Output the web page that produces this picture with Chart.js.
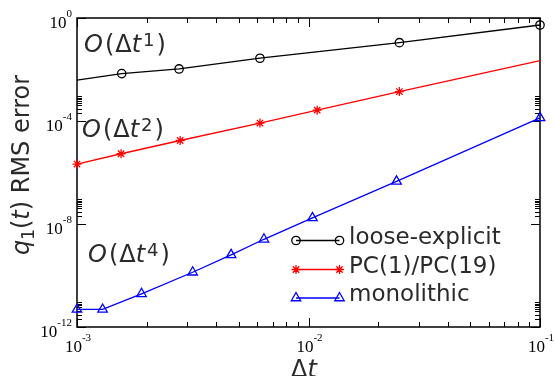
<!DOCTYPE html>
<html>
<head>
<meta charset="utf-8">
<script src="https://cdn.jsdelivr.net/npm/chart.js@4.4.1/dist/chart.umd.min.js"></script>
<style>
  html, body { margin: 0; padding: 0; background: #fff; }
</style>
</head>
<body>
<canvas id="chart" width="554" height="376"></canvas>
<script>
// values
const looseDt  = [1e-3, 1.56e-3, 2.76e-3, 6.17e-3, 2.47e-2, 1e-1]
const looseErr = [3.85e-3, 6.94e-3, 1.05e-2, 2.74e-2, 0.110, 0.535]

const pcDt  = [1e-3, 1.55e-3, 2.79e-3, 6.17e-3, 1.09e-2, 2.47e-2, 1e-1]
const pcErr = [2.13e-6, 5.35e-6, 1.75e-5, 8.3e-5, 2.64e-4, 1.39e-3, 2.21e-2]

const monoDt  = [1e-3, 1.29e-3, 1.90e-3, 3.16e-3, 4.63e-3, 6.42e-3, 1.04e-2, 2.40e-2, 1e-1]
const monoErr = [4.8e-12, 4.8e-12, 1.95e-11, 1.34e-10, 6.34e-10, 2.55e-9, 1.72e-8, 4.52e-7, 1.33e-4]

const seriesNames = ["loose-explicit", "PC(1)/PC(19)", "monolithic"]

const xTickValues = [1e-3, 1e-2, 1e-1]
const xTickExps   = ["-3", "-2", "-1"]
const yTickValues = [1, 1e-4, 1e-8, 1e-12]
const yTickExps   = ["0", "-4", "-8", "-12"]

const toPoints = (xs, ys) => xs.map((x, i) => ({ x: x, y: ys[i] }))

const textColor = "#2a2a2a"
const sans = "'DejaVu Sans', sans-serif"
const serif = "'Liberation Serif', serif"

// draw a row of text pieces (italic, super/subscript) starting at x
const drawRuns = (ctx, runs, x, y, align) => {
    let total = 0
    runs.forEach(r => {
        ctx.font = r.font
        total += ctx.measureText(r.t).width + (r.gap || 0)
    })
    let cx = x
    if (align === "center") cx = x - total / 2
    if (align === "right") cx = x - total
    ctx.textAlign = "left"
    ctx.textBaseline = "alphabetic"
    runs.forEach(r => {
        ctx.font = r.font
        ctx.fillText(r.t, cx, y + (r.dy || 0))
        cx += ctx.measureText(r.t).width + (r.gap || 0)
    })
}

const markers = {
    circle: (ctx, x, y, r) => {
        ctx.beginPath(); ctx.arc(x, y, r, 0, Math.PI * 2); ctx.stroke()
    },
    star: (ctx, x, y, r) => {
        ctx.beginPath()
        for (let k = 0; k < 4; k++) {
            const a = k * Math.PI / 4
            ctx.moveTo(x + Math.cos(a) * r, y + Math.sin(a) * r)
            ctx.lineTo(x - Math.cos(a) * r, y - Math.sin(a) * r)
        }
        ctx.stroke()
    },
    triangle: (ctx, x, y, r) => {
        ctx.beginPath()
        let a = 0
        ctx.moveTo(x + Math.sin(a) * r, y - Math.cos(a) * r)
        a += 2 * Math.PI / 3
        ctx.lineTo(x + Math.sin(a) * r, y - Math.cos(a) * r)
        a += 2 * Math.PI / 3
        ctx.lineTo(x + Math.sin(a) * r, y - Math.cos(a) * r)
        ctx.closePath()
        ctx.stroke()
    }
}

const framePlugin = {
    id: "frame",
    beforeDatasetsDraw(chart) {
        const ctx = chart.ctx
        const a = chart.chartArea
        const xs = chart.scales.x, ys = chart.scales.y
        ctx.save()
        ctx.strokeStyle = "#000"
        ctx.lineWidth = 1.5
        ctx.strokeRect(a.left, a.top, a.right - a.left, a.bottom - a.top)

        ctx.lineWidth = 1
        const tick = (px, len, vertical) => {
            ctx.beginPath()
            if (vertical) {
                ctx.moveTo(px, a.bottom); ctx.lineTo(px, a.bottom - len)
                ctx.moveTo(px, a.top); ctx.lineTo(px, a.top + len)
            } else {
                ctx.moveTo(a.left, px); ctx.lineTo(a.left + len, px)
                ctx.moveTo(a.right, px); ctx.lineTo(a.right - len, px)
            }
            ctx.stroke()
        }
        xTickValues.forEach((v, i) => {
            const p = Math.round(xs.getPixelForValue(v)) + 0.5
            tick(p, 9, true)
            if (i < xTickValues.length - 1) {
                for (let m = 2; m <= 9; m++) tick(Math.round(xs.getPixelForValue(v * m)) + 0.5, 5, true)
            }
        })
        yTickValues.forEach((v, i) => {
            const p = Math.round(ys.getPixelForValue(v)) + 0.5
            tick(p, 9, false)
            if (i > 0) {
                for (let m = 2; m <= 9; m++) tick(Math.round(ys.getPixelForValue(v * m)) + 0.5, 5, false)
            }
        })
        ctx.restore()
    },
    afterDraw(chart) {
        const ctx = chart.ctx
        const a = chart.chartArea
        const xs = chart.scales.x, ys = chart.scales.y
        ctx.save()

        // tick labels
        ctx.fillStyle = "#000"
        const big = "17px " + serif, small = "11px " + serif
        xTickValues.forEach((v, i) => {
            drawRuns(ctx, [
                { t: "10", font: big },
                { t: xTickExps[i], font: small, dy: -11 }
            ], xs.getPixelForValue(v) + 1, a.bottom + 24.5, "center")
        })
        yTickValues.forEach((v, i) => {
            drawRuns(ctx, [
                { t: "10", font: big },
                { t: yTickExps[i], font: small, dy: -10.5 }
            ], a.left - 5, ys.getPixelForValue(v) + 9.5, "right")
        })

        // axis titles
        ctx.fillStyle = textColor
        const f = "24px " + sans, fi = "italic 24px " + sans
        drawRuns(ctx, [{ t: "\u0394", font: f }, { t: "t", font: fi }], 304, 377, "center")

        ctx.save()
        ctx.translate(29, 165)
        ctx.rotate(-Math.PI / 2)
        drawRuns(ctx, [
            { t: "q", font: fi },
            { t: "1", font: "17px " + sans, dy: 5 },
            { t: "(", font: f },
            { t: "t", font: fi },
            { t: ") RMS error", font: f }
        ], 0, 0, "center")
        ctx.restore()

        // order annotations
        const fa = "24px " + sans, fai = "italic 24px " + sans, fs = "18px " + sans
        const order = (p, x, y) => drawRuns(ctx, [
            { t: "O", font: fai, gap: 2 },
            { t: "(", font: fa, gap: 1 },
            { t: "\u0394", font: fa },
            { t: "t", font: fai, gap: 2 },
            { t: p, font: fs, dy: -5.5, gap: 2 },
            { t: ")", font: fa }
        ], x, y, "left")
        order("1", 84, 51.5)
        order("2", 82, 136.5)
        order("4", 88, 261.5)

        // legend
        const styles = [
            { color: "#000", marker: "circle", r: 4.2 },
            { color: "#ff0000", marker: "star", r: 4.5 },
            { color: "#0000ff", marker: "triangle", r: 5.5 }
        ]
        const rows = [240.5, 269.5, 298]
        styles.forEach((s, i) => {
            const y = rows[i]
            ctx.strokeStyle = s.color
            ctx.lineWidth = 1.3
            ctx.beginPath(); ctx.moveTo(296, y); ctx.lineTo(339.5, y); ctx.stroke()
            markers[s.marker](ctx, 296, y, s.r)
            markers[s.marker](ctx, 339.5, y, s.r)
            ctx.fillStyle = textColor
            ctx.font = "23px " + sans
            ctx.textAlign = "left"
            ctx.textBaseline = "alphabetic"
            ctx.fillText(seriesNames[i], 349, y + 3)
        })
        ctx.restore()
    }
}

const dataChart = {
    datasets: [
        {
            label: seriesNames[0],
            data: toPoints(looseDt, looseErr),
            borderColor: "#000",
            pointBorderColor: "#000",
            pointBackgroundColor: "rgba(0,0,0,0)",
            pointStyle: "circle",
            pointRadius: [0, 4.2, 4.2, 4.2, 4.2, 4.2]
        },
        {
            label: seriesNames[1],
            data: toPoints(pcDt, pcErr),
            borderColor: "#ff0000",
            pointBorderColor: "#ff0000",
            pointBackgroundColor: "#ff0000",
            pointStyle: "star",
            pointRadius: [4.5, 4.5, 4.5, 4.5, 4.5, 4.5, 0]
        },
        {
            label: seriesNames[2],
            data: toPoints(monoDt, monoErr),
            borderColor: "#0000ff",
            pointBorderColor: "#0000ff",
            pointBackgroundColor: "rgba(0,0,0,0)",
            pointStyle: "triangle",
            pointRadius: 5.5
        }
    ].map(d => Object.assign(d, {
        showLine: true,
        borderWidth: 1.3,
        pointBorderWidth: 1.3,
        pointHoverRadius: 0,
        tension: 0,
        fill: false,
        clip: false
    }))
}

const config = {
    type: "scatter",
    data: dataChart,
    options: {
        responsive: false,
        animation: false,
        events: [],
        layout: { padding: { left: 77, right: 14, top: 18, bottom: 49 } },
        plugins: { legend: { display: false }, tooltip: { enabled: false } },
        scales: {
            x: { type: "logarithmic", min: 1e-3, max: 1e-1, display: false },
            y: { type: "logarithmic", min: 1e-12, max: 1, display: false }
        }
    },
    plugins: [framePlugin]
}

const myChart = new Chart(document.getElementById("chart"), config)
</script>
</body>
</html>
